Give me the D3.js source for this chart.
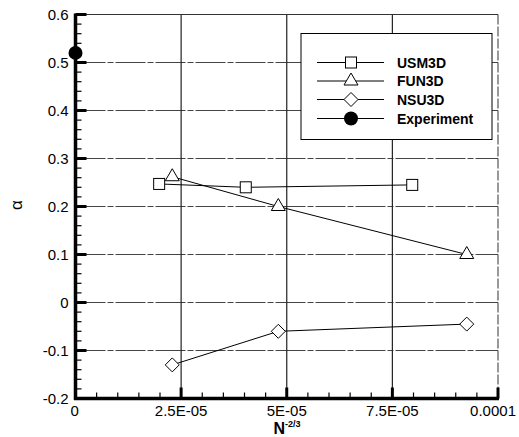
<!DOCTYPE html>
<html><head><meta charset="utf-8">
<script src="https://cdn.jsdelivr.net/npm/d3@7"></script>
<style>body{margin:0;background:#fff}svg{display:block}</style>
</head><body>
<svg id="c" width="519" height="437"></svg>
<script>
const usm3dX = [1.98e-5, 4.03e-5, 7.97e-5];
const usm3dY = [0.247, 0.240, 0.245];
const fun3dX = [2.29e-5, 4.80e-5, 9.26e-5];
const fun3dY = [0.262, 0.200, 0.100];
const nsu3dX = [2.29e-5, 4.80e-5, 9.26e-5];
const nsu3dY = [-0.130, -0.060, -0.045];
const expX = [0];
const expY = [0.520];
const xTicks = [0, 2.5e-5, 5e-5, 7.5e-5, 1e-4];
const xTickLabels = ["0", "2.5E-05", "5E-05", "7.5E-05", "0.0001"];
const yTicks = [-0.2, -0.1, 0, 0.1, 0.2, 0.3, 0.4, 0.5, 0.6];
const yTickLabels = ["-0.2", "-0.1", "0", "0.1", "0.2", "0.3", "0.4", "0.5", "0.6"];
const seriesNames = ["USM3D", "FUN3D", "NSU3D", "Experiment"];

const svg = d3.select("#c");
const L = 75.5, R = 498, T = 14.5, B = 398.5;
const x = d3.scaleLinear().domain([0, 1e-4]).range([L, R]);
const y = d3.scaleLinear().domain([-0.2, 0.6]).range([B, T]);
const font = "Arial, 'Liberation Sans', Helvetica, sans-serif";

// grid
const g = svg.append("g").attr("class", "grid");
g.selectAll("line.hy").data(yTicks.slice(1, -1)).enter().append("line").attr("class", "hy")
  .attr("x1", L).attr("x2", R).attr("y1", d => y(d)).attr("y2", d => y(d))
  .attr("stroke", "#444").attr("stroke-width", 1).attr("stroke-dasharray", "30,2,6,2");
g.selectAll("line.vx").data(xTicks.slice(1, -1)).enter().append("line").attr("class", "vx")
  .attr("y1", T).attr("y2", B).attr("x1", d => x(d)).attr("x2", d => x(d))
  .attr("stroke", "#222").attr("stroke-width", 1.2);

// border top/right
svg.append("line").attr("x1", L).attr("x2", R).attr("y1", T).attr("y2", T).attr("stroke", "#333").attr("stroke-width", 1);
svg.append("line").attr("x1", R).attr("x2", R).attr("y1", T).attr("y2", B).attr("stroke", "#333").attr("stroke-width", 1).attr("stroke-dasharray", "10,2");

// ticks
const ax = svg.append("g").attr("class", "axes");
const yMinor = d3.range(-0.2, 0.6001, 0.02).filter(v => Math.abs(Math.round(v * 10) - v * 10) > 1e-6);
ax.selectAll("line.ymn").data(yMinor).enter().append("line").attr("class", "ymn")
  .attr("x1", L).attr("x2", L + 6).attr("y1", d => y(d)).attr("y2", d => y(d))
  .attr("stroke", "#000").attr("stroke-width", 1.2);
ax.selectAll("line.ymj").data(yTicks).enter().append("line").attr("class", "ymj")
  .attr("x1", L).attr("x2", L + 11).attr("y1", d => y(d)).attr("y2", d => y(d))
  .attr("stroke", "#000").attr("stroke-width", 3);
const xMinor = d3.range(0, 1.00001e-4, 5e-6).filter((v, i) => i % 5 !== 0);
ax.selectAll("line.xmn").data(xMinor).enter().append("line").attr("class", "xmn")
  .attr("x1", d => x(d)).attr("x2", d => x(d)).attr("y1", B).attr("y2", B - 6)
  .attr("stroke", "#000").attr("stroke-width", 1.2);
ax.selectAll("line.xmj").data(xTicks).enter().append("line").attr("class", "xmj")
  .attr("x1", d => x(d)).attr("x2", d => x(d)).attr("y1", B).attr("y2", B - 11)
  .attr("stroke", "#000").attr("stroke-width", 3);

// axes lines
ax.append("line").attr("x1", L).attr("x2", L).attr("y1", T - 1).attr("y2", B + 1.5).attr("stroke", "#000").attr("stroke-width", 3.5);
ax.append("line").attr("x1", L - 1.5).attr("x2", R + 1).attr("y1", B).attr("y2", B).attr("stroke", "#000").attr("stroke-width", 3.5);

// tick labels
svg.selectAll("text.yl").data(yTicks).enter().append("text").attr("class", "yl")
  .attr("x", L - 7).attr("y", d => y(d) + 5).attr("text-anchor", "end")
  .attr("font-family", font).attr("font-size", 15).text((d, i) => yTickLabels[i]);
svg.selectAll("text.xl").data(xTicks).enter().append("text").attr("class", "xl")
  .attr("x", (d, i) => i === 0 ? x(d) - 5 : (i === xTicks.length - 1 ? 516 : x(d)))
  .attr("y", 416).attr("text-anchor", (d, i) => i === 0 ? "start" : (i === xTicks.length - 1 ? "end" : "middle"))
  .attr("font-family", font).attr("font-size", 15).text((d, i) => xTickLabels[i]);

// axis titles
const xt = svg.append("text").attr("x", 287).attr("y", 434).attr("text-anchor", "middle")
  .attr("font-family", font).attr("font-weight", "bold").attr("font-size", 16);
xt.append("tspan").text("N");
xt.append("tspan").attr("dy", -7).attr("font-size", 9).text("-2/3");
svg.append("text").attr("transform", "translate(22,205) rotate(-90)").attr("text-anchor", "middle")
  .attr("font-family", font).attr("font-size", 17).text("α");

// series
const line = d3.line().x(d => x(d[0])).y(d => y(d[1]));
const zip = (a, b) => a.map((v, i) => [v, b[i]]);
function marker(sel, type, cx, cy) {
  if (type === "sq") sel.append("rect").attr("x", cx - 5.5).attr("y", cy - 5.5).attr("width", 11).attr("height", 11).attr("fill", "#fff").attr("stroke", "#000").attr("stroke-width", 1);
  if (type === "tri") sel.append("path").attr("d", `M${cx},${cy - 8} L${cx + 7},${cy + 4} L${cx - 7},${cy + 4} Z`).attr("fill", "#fff").attr("stroke", "#000").attr("stroke-width", 1);
  if (type === "dia") sel.append("path").attr("d", `M${cx},${cy - 7} L${cx + 7},${cy} L${cx},${cy + 7} L${cx - 7},${cy} Z`).attr("fill", "#fff").attr("stroke", "#000").attr("stroke-width", 1);
  if (type === "circ") sel.append("circle").attr("cx", cx).attr("cy", cy).attr("r", 7).attr("fill", "#000");
}
const series = [
  { name: seriesNames[0], d: zip(usm3dX, usm3dY), m: "sq" },
  { name: seriesNames[1], d: zip(fun3dX, fun3dY), m: "tri" },
  { name: seriesNames[2], d: zip(nsu3dX, nsu3dY), m: "dia" },
  { name: seriesNames[3], d: zip(expX, expY), m: "circ" }
];
const sg = svg.append("g");
series.forEach(s => {
  sg.append("path").attr("d", line(s.d)).attr("fill", "none").attr("stroke", "#000").attr("stroke-width", 1);
  s.d.forEach(p => marker(sg, s.m, x(p[0]), y(p[1])));
});

// legend
const lg = svg.append("g");
lg.append("rect").attr("x", 301).attr("y", 33.5).attr("width", 191).attr("height", 106).attr("fill", "#fff").attr("stroke", "#000").attr("stroke-width", 1);
const rowsY = [62.5, 81, 99.5, 118.5];
series.forEach((s, i) => {
  const yy = rowsY[i];
  lg.append("line").attr("x1", 317).attr("x2", 384).attr("y1", yy).attr("y2", yy).attr("stroke", "#000").attr("stroke-width", 1);
  marker(lg, s.m, 351, yy);
  lg.append("text").attr("x", 397).attr("y", yy + 5).attr("font-family", font).attr("font-weight", "bold").attr("font-size", 14).text(s.name);
});
</script>
</body></html>
